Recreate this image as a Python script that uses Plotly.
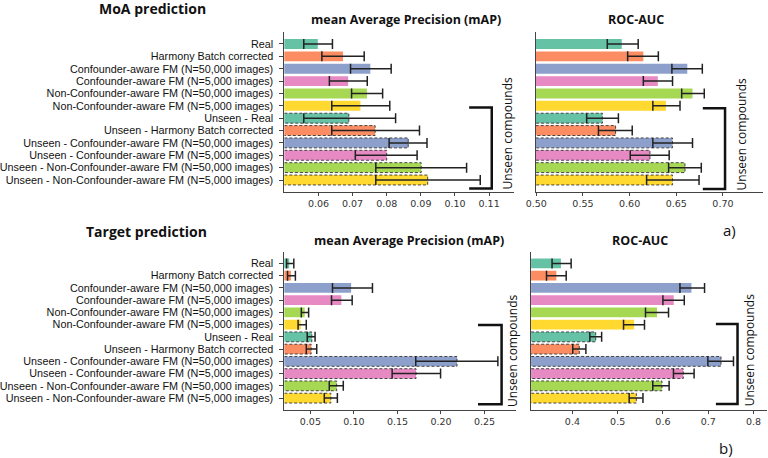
import plotly.graph_objects as go

categories = [
    "Real",
    "Harmony Batch corrected",
    "Confounder-aware FM (N=50,000 images)",
    "Confounder-aware FM (N=5,000 images)",
    "Non-Confounder-aware FM (N=50,000 images)",
    "Non-Confounder-aware FM (N=5,000 images)",
    "Unseen - Real",
    "Unseen - Harmony Batch corrected",
    "Unseen - Confounder-aware FM (N=50,000 images)",
    "Unseen - Confounder-aware FM (N=5,000 images)",
    "Unseen - Non-Confounder-aware FM (N=50,000 images)",
    "Unseen - Non-Confounder-aware FM (N=5,000 images)",
]
unseen = [False] * 6 + [True] * 6

colors = ["#66c2a5", "#fc8d62", "#8da0cb", "#e78ac3", "#a6d854", "#ffd92f"] * 2

# MoA prediction - mAP
moa_map = [0.0598, 0.0672, 0.0752, 0.0687, 0.0742, 0.0723, 0.0689, 0.0766, 0.0863, 0.0800, 0.0901, 0.0920]
moa_map_lo = [0.0557, 0.0610, 0.0694, 0.0632, 0.0697, 0.0639, 0.0557, 0.0639, 0.0807, 0.0708, 0.0768, 0.0768]
moa_map_hi = [0.0641, 0.0734, 0.0813, 0.0743, 0.0788, 0.0809, 0.0826, 0.0896, 0.0918, 0.0889, 0.1034, 0.1074]

# MoA prediction - ROC-AUC
moa_auc = [0.5916, 0.6147, 0.6618, 0.6302, 0.6674, 0.6389, 0.5709, 0.5850, 0.6460, 0.6218, 0.6593, 0.6460]
moa_auc_lo = [0.5761, 0.5979, 0.6453, 0.6147, 0.6558, 0.6249, 0.5540, 0.5666, 0.6249, 0.6007, 0.6418, 0.6182]
moa_auc_hi = [0.6092, 0.6308, 0.6779, 0.6460, 0.6800, 0.6540, 0.5880, 0.6028, 0.6674, 0.6424, 0.6768, 0.6744]

# Target prediction - mAP
tgt_map = [0.0257, 0.0277, 0.0968, 0.0856, 0.0435, 0.0389, 0.0517, 0.0509, 0.2184, 0.1713, 0.0802, 0.0735]
tgt_map_lo = [0.0227, 0.0238, 0.0754, 0.0743, 0.0396, 0.0359, 0.0464, 0.0453, 0.1710, 0.1439, 0.0717, 0.0660]
tgt_map_hi = [0.0310, 0.0328, 0.1213, 0.0980, 0.0480, 0.0453, 0.0554, 0.0573, 0.2653, 0.1995, 0.0878, 0.0810]

# Target prediction - ROC-AUC
tgt_auc = [0.3746, 0.3646, 0.6630, 0.6239, 0.5870, 0.5363, 0.4515, 0.4152, 0.7283, 0.6450, 0.5978, 0.5413]
tgt_auc_lo = [0.3550, 0.3428, 0.6376, 0.6000, 0.5615, 0.5130, 0.4385, 0.4007, 0.6993, 0.6233, 0.5776, 0.5254]
tgt_auc_hi = [0.3972, 0.3863, 0.6920, 0.6472, 0.6124, 0.5593, 0.4646, 0.4298, 0.7559, 0.6689, 0.6137, 0.5559]

W, H = 768, 458


def xd(a, b):
    return [a / W, b / W]


def yd(top, bottom):
    return [1 - bottom / H, 1 - top / H]


panels = [
    (moa_map, moa_map_lo, moa_map_hi, "", xd(276, 510), yd(32, 192), [0.05, 0.1174],
     [0.06, 0.07, 0.08, 0.09, 0.10, 0.11], ".2f", True),
    (moa_auc, moa_auc_lo, moa_auc_hi, "2", xd(531.7, 763), yd(32, 192), [0.4994, 0.743],
     [0.50, 0.55, 0.60, 0.65, 0.70], ".2f", False),
    (tgt_map, tgt_map_lo, tgt_map_hi, "3", xd(276, 512), yd(251.5, 410), [0.0201, 0.2865],
     [0.05, 0.10, 0.15, 0.20, 0.25], ".2f", True),
    (tgt_auc, tgt_auc_lo, tgt_auc_hi, "4", xd(527, 767), yd(251.5, 410), [0.3087, 0.830],
     [0.4, 0.5, 0.6, 0.7, 0.8], ".1f", False),
]

fig = go.Figure()
ypos = list(range(len(categories)))
half = 0.4

for vals, lo, hi, ax, dx, dy, xr, tv, fmt, showy in panels:
    xa = "x" + ax
    ya = "y" + ax
    fig.add_trace(go.Bar(
        x=vals, y=ypos, orientation="h", width=0.8,
        marker=dict(color=colors, line=dict(width=0)),
        xaxis=xa, yaxis=ya, showlegend=False, hoverinfo="skip",
    ))
    ox, oy = [], []
    for i, v in enumerate(vals):
        if unseen[i]:
            ox += [xr[0], v, v, xr[0], None]
            oy += [i - half, i - half, i + half, i + half, None]
    fig.add_trace(go.Scatter(
        x=ox, y=oy, mode="lines", line=dict(color="#444444", width=1, dash="3px,2px"),
        xaxis=xa, yaxis=ya, showlegend=False, hoverinfo="skip",
    ))
    fig.add_trace(go.Scatter(
        x=vals, y=ypos, mode="markers", marker=dict(size=1, color="rgba(0,0,0,0)"),
        error_x=dict(type="data", symmetric=False,
                     array=[h - v for h, v in zip(hi, vals)],
                     arrayminus=[v - l for v, l in zip(vals, lo)],
                     color="#222222", thickness=1.5, width=5),
        xaxis=xa, yaxis=ya, showlegend=False, hoverinfo="skip",
    ))
    xkey = "xaxis" + ax
    ykey = "yaxis" + ax
    fig.layout[xkey] = dict(
        domain=dx, range=xr, anchor=ya, tickvals=tv, tickformat=fmt,
        showline=True, linecolor="#444444", linewidth=1, ticks="outside",
        ticklen=3, tickcolor="#444444", showgrid=False, zeroline=False,
        tickfont=dict(family="DejaVu Sans", size=9.5, color="#333333"),
    )
    fig.layout[ykey] = dict(
        domain=dy, range=[11.97, -0.97], anchor=xa,
        tickvals=ypos if showy else [], ticktext=categories if showy else [],
        showticklabels=showy, ticks="outside" if showy else "", ticklen=4,
        tickcolor="#444444", showline=True, linecolor="#444444", linewidth=1,
        showgrid=False, zeroline=False, ticklabelstandoff=4,
        tickfont=dict(family="Liberation Sans, Arial", size=10.8, color="#111111"),
    )


def ann(text, x, y, size, bold=False, angle=0, family="Liberation Sans, Arial"):
    fig.add_annotation(
        text=f"<b>{text}</b>" if bold else text, x=x / W, y=1 - y / H,
        xref="paper", yref="paper", showarrow=False, xanchor="center",
        yanchor="middle", textangle=angle,
        font=dict(family=family, size=size, color="#111111"),
    )


TF = "Open Sans, Liberation Sans, Arial"
ann("MoA prediction", 141.5, 8, 14, bold=True, family=TF)
ann("mean Average Precision (mAP)", 400, 19.5, 12.5, bold=True, family=TF)
ann("ROC-AUC", 634, 19.5, 12.5, bold=True, family=TF)
ann("Target prediction", 135.5, 232, 14, bold=True, family=TF)
ann("mean Average Precision (mAP)", 403, 240, 12.5, bold=True, family=TF)
ann("ROC-AUC", 637.5, 240, 12.5, bold=True, family=TF)
ann("a)", 729, 230, 15, family=TF)
ann("b)", 725, 448, 15, family=TF)

brackets = [
    (464, 487, 107.5, 188.5, 504, 133),
    (701.7, 724.3, 108.3, 189, 741, 134),
    (473, 497, 325, 404.3, 508, 350.5),
    (715, 737, 324, 404, 749, 350),
]
for xl, xr_, yt, yb, tx, ty in brackets:
    path = (f"M {xl / W},{1 - yt / H} L {xr_ / W},{1 - yt / H} "
            f"L {xr_ / W},{1 - yb / H} L {xl / W},{1 - yb / H}")
    fig.add_shape(type="path", path=path, xref="paper", yref="paper",
                  line=dict(color="#111111", width=2.5))
    ann("Unseen compounds", tx, ty, 12, angle=-90, family=TF)

fig.update_layout(
    width=W, height=H, margin=dict(l=0, r=0, t=0, b=0),
    paper_bgcolor="white", plot_bgcolor="white", bargap=0.2,
)

fig.write_html("out.html")
